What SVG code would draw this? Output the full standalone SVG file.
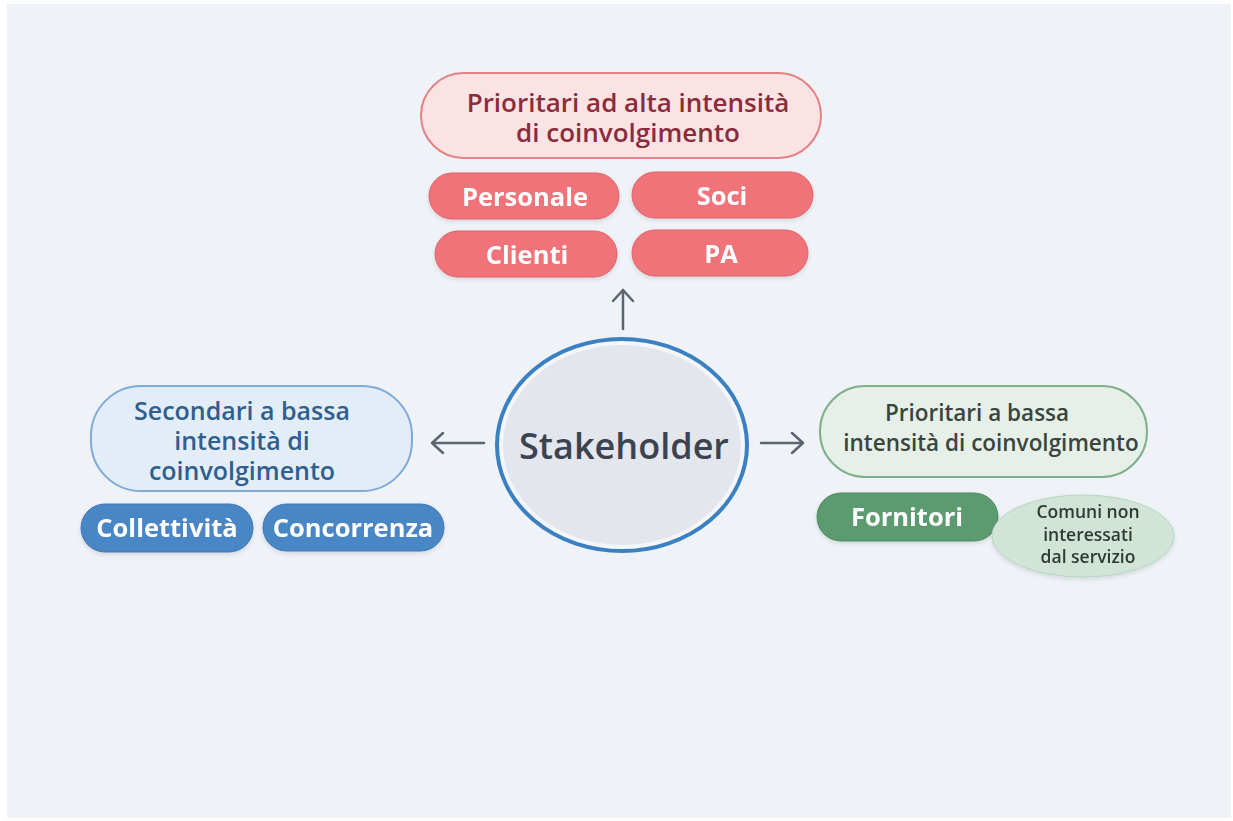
<svg xmlns="http://www.w3.org/2000/svg" width="1233" height="821" viewBox="0 0 1233 821">
<defs>
<style>
.hdr{font-family:"Open Sans","Liberation Sans",sans-serif;font-weight:600;text-anchor:middle}
.chip{font-family:"Open Sans","Liberation Sans",sans-serif;font-weight:700;font-size:25.5px;fill:#ffffff;text-anchor:middle}
.arrow{stroke:#5b6572;stroke-width:2.5;fill:none;stroke-linecap:round;stroke-linejoin:round}
.red{fill:#f0737a;stroke:#e0606a;stroke-width:1}
.blue{fill:#4a86c6;stroke:#3f78b6;stroke-width:1}
.green{fill:#5c9a6f;stroke:#4f8a62;stroke-width:1}
</style>
<filter id="sh" x="-10%" y="-10%" width="120%" height="130%">
<feDropShadow dx="0" dy="2" stdDeviation="2" flood-color="#000" flood-opacity="0.12"/>
</filter>
</defs>
<rect x="0" y="0" width="1233" height="821" fill="#ffffff"/>
<rect x="7" y="4" width="1224" height="814" fill="#eff3f8"/>

<g id="connectors">
<path class="arrow" d="M623 329 V290 M613 301 L623 290 L633 301"/>
<path class="arrow" d="M484 443 H432 M443 433 L432 443 L443 453"/>
<path class="arrow" d="M761 443 H803 M792 433 L803 443 L792 453"/>
</g>

<g id="top-header">
<rect x="421" y="73" width="400" height="85" rx="42.5" fill="#fbe2e3" stroke="#e38185" stroke-width="2"/>
<text class="hdr" x="628" y="112" font-size="26" fill="#8b2c3b">Prioritari ad alta intensità</text>
<text class="hdr" x="628" y="142" font-size="26" fill="#8b2c3b">di coinvolgimento</text>
</g>
<g id="personale" filter="url(#sh)">
<rect class="red" x="429" y="173" width="190" height="46" rx="23"/>
<text class="chip" x="525" y="206">Personale</text>
</g>
<g id="soci" filter="url(#sh)">
<rect class="red" x="632" y="172" width="181" height="46" rx="23"/>
<text class="chip" x="722" y="205">Soci</text>
</g>
<g id="clienti" filter="url(#sh)">
<rect class="red" x="435" y="231" width="182" height="46" rx="23"/>
<text class="chip" x="527" y="264">Clienti</text>
</g>
<g id="pa" filter="url(#sh)">
<rect class="red" x="632" y="230" width="176" height="46" rx="23"/>
<text class="chip" x="721" y="263">PA</text>
</g>

<g id="stakeholder">
<ellipse cx="622" cy="445" rx="125" ry="106" fill="#f4f6f9" stroke="#3b80c0" stroke-width="4"/>
<ellipse cx="622" cy="445" rx="119" ry="100" fill="#e3e6ed"/>
<text class="hdr" x="624" y="459" font-size="36" font-weight="700" fill="#3c4350">Stakeholder</text>
</g>

<g id="left-header">
<rect x="91" y="386" width="321" height="105" rx="50" fill="#e3edf8" stroke="#7eabd8" stroke-width="2"/>
<text class="hdr" x="242" y="420" font-size="25" fill="#2f5f8e">Secondari a bassa</text>
<text class="hdr" x="242" y="450" font-size="25" fill="#2f5f8e">intensità di</text>
<text class="hdr" x="242" y="480" font-size="25" fill="#2f5f8e">coinvolgimento</text>
</g>
<g id="collettivita" filter="url(#sh)">
<rect class="blue" x="81" y="504" width="172" height="48" rx="24"/>
<text class="chip" x="167" y="537" font-size="25">Collettività</text>
</g>
<g id="concorrenza" filter="url(#sh)">
<rect class="blue" x="263" y="504" width="181" height="47" rx="23.5"/>
<text class="chip" x="353" y="537" font-size="25">Concorrenza</text>
</g>

<g id="right-header">
<rect x="820" y="386" width="327" height="91" rx="45" fill="#e6f0e8" stroke="#80b08b" stroke-width="2"/>
<text class="hdr" x="977" y="421" font-size="22.5" fill="#3a463d">Prioritari a bassa</text>
<text class="hdr" x="991" y="451" font-size="22.5" fill="#3a463d">intensità di coinvolgimento</text>
</g>
<g id="fornitori" filter="url(#sh)">
<rect class="green" x="817" y="493" width="181" height="48" rx="24"/>
<text class="chip" x="907" y="526">Fornitori</text>
</g>
<g id="comuni" filter="url(#sh)">
<ellipse cx="1083" cy="536" rx="91" ry="41" fill="#d0e4d7" stroke="#b8d3c1" stroke-width="1"/>
<text class="hdr" x="1088" y="518" font-size="17.5" font-weight="700" fill="#2f3b33">Comuni non</text>
<text class="hdr" x="1088" y="541" font-size="17.5" font-weight="700" fill="#2f3b33">interessati</text>
<text class="hdr" x="1088" y="563" font-size="17.5" font-weight="700" fill="#2f3b33">dal servizio</text>
</g>
</svg>
